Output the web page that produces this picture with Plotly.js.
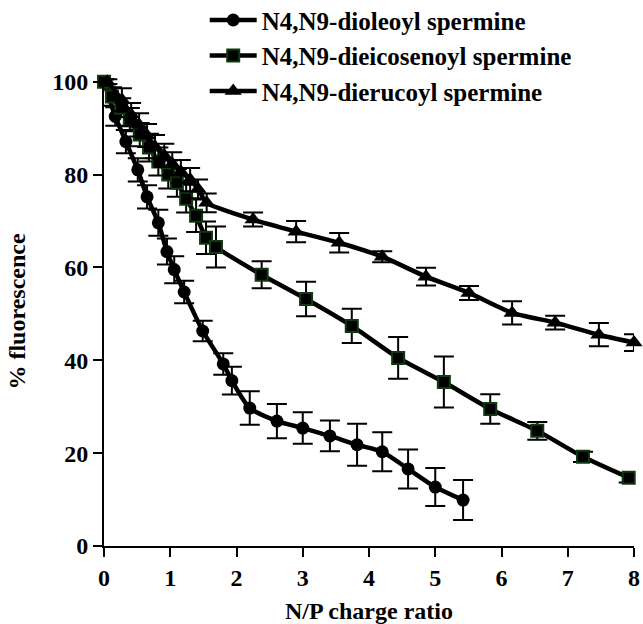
<!DOCTYPE html>
<html>
<head>
<meta charset="utf-8">
<script src="https://cdn.plot.ly/plotly-3.0.1.min.js"></script>
<style>html,body{margin:0;padding:0;background:#fff;}#chart{width:643px;height:624px;}</style>
</head>
<body>
<div id="chart"></div>
<script>
// N4,N9-dioleoyl spermine (circles)
const dioleoylX = [0, 0.17, 0.33, 0.51, 0.65, 0.82, 0.95, 1.06, 1.21, 1.49, 1.80, 1.93, 2.20, 2.61, 3.00, 3.41, 3.82, 4.20, 4.59, 5.00, 5.42];
const dioleoylY = [100, 92.5, 87.1, 81.0, 75.2, 69.6, 63.4, 59.5, 54.7, 46.3, 39.2, 35.6, 29.7, 26.9, 25.4, 23.7, 21.8, 20.3, 16.6, 12.7, 9.9];
const dioleoylErr = [0.5, 2.0, 2.5, 2.5, 2.5, 2.8, 2.8, 2.9, 2.4, 2.2, 2.3, 3.0, 3.6, 3.7, 3.4, 3.3, 4.5, 4.2, 4.2, 4.1, 4.3];

// N4,N9-dieicosenoyl spermine (squares)
const dieicosenoylX = [0, 0.12, 0.26, 0.39, 0.54, 0.68, 0.82, 0.97, 1.10, 1.24, 1.39, 1.54, 1.69, 2.38, 3.05, 3.74, 4.44, 5.13, 5.83, 6.54, 7.23, 7.92];
const dieicosenoylY = [100, 96.8, 94.4, 91.8, 88.6, 85.8, 82.8, 80.0, 78.2, 74.8, 71.1, 66.4, 64.4, 58.4, 53.2, 47.4, 40.5, 35.3, 29.5, 24.8, 19.2, 14.7];
const dieicosenoylErr = [0.5, 2.0, 2.0, 2.5, 2.5, 3.0, 3.0, 3.0, 3.0, 3.0, 3.5, 3.5, 4.4, 2.9, 3.7, 3.7, 4.5, 5.5, 3.2, 1.9, 1.1, 1.0];

// N4,N9-dierucoyl spermine (triangles)
const dierucoylX = [0.05, 0.27, 0.41, 0.53, 0.65, 0.77, 0.91, 1.03, 1.16, 1.30, 1.42, 1.55, 2.25, 2.90, 3.55, 4.20, 4.86, 5.51, 6.16, 6.81, 7.47, 8.0];
const dierucoylY = [100, 96.1, 92.9, 90.7, 88.4, 86.0, 84.1, 82.3, 80.6, 78.9, 76.9, 73.9, 70.3, 67.7, 65.3, 62.3, 58.0, 54.5, 50.2, 48.1, 45.5, 43.8];
const dierucoylErr = [0.5, 2.5, 2.5, 2.5, 2.5, 2.5, 2.5, 2.5, 2.5, 2.5, 2.0, 2.0, 1.5, 2.3, 2.1, 1.2, 1.9, 1.5, 2.5, 1.5, 2.5, 1.8];

const seriesNames = ['N4,N9-dioleoyl spermine', 'N4,N9-dieicosenoyl spermine', 'N4,N9-dierucoyl spermine'];
const xTicks = [0, 1, 2, 3, 4, 5, 6, 7, 8];
const yTicks = [0, 20, 40, 60, 80, 100];

const FONT = 'Liberation Serif, Times New Roman, serif';

function errY(arr) {
  return {type: 'data', array: arr, visible: true, color: '#000', thickness: 2, width: 10};
}

const traces = [
  {
    x: dioleoylX, y: dioleoylY, name: seriesNames[0], legendgroup: 'a',
    mode: 'lines+markers', type: 'scatter', cliponaxis: false,
    line: {color: '#000', width: 4.5, shape: 'spline', smoothing: 0.6},
    marker: {symbol: 'circle', size: 13, color: '#000', line: {color: '#000', width: 0}},
    error_y: errY(dioleoylErr)
  },
  {
    x: dieicosenoylX, y: dieicosenoylY, name: seriesNames[1], legendgroup: 'b',
    mode: 'lines+markers', type: 'scatter', cliponaxis: false,
    line: {color: '#000', width: 4.5, shape: 'spline', smoothing: 0.6},
    marker: {symbol: 'square', size: 12, color: '#000', line: {color: '#0f3a0f', width: 2}},
    error_y: errY(dieicosenoylErr)
  },
  {
    x: dierucoylX, y: dierucoylY, name: seriesNames[2], legendgroup: 'c',
    mode: 'lines+markers', type: 'scatter', cliponaxis: false,
    line: {color: '#000', width: 4.5, shape: 'spline', smoothing: 0.6},
    marker: {symbol: 'triangle-up', size: 15, color: '#000', line: {color: '#000', width: 0}},
    error_y: errY(dierucoylErr)
  }
];

const layout = {
  width: 643, height: 624,
  margin: {l: 104, r: 9, t: 77, b: 78, autoexpand: false},
  paper_bgcolor: '#fff', plot_bgcolor: '#fff',
  font: {family: FONT, color: '#000', size: 22},
  showlegend: true,
  legend: {
    x: 0.19, y: 1.17, xanchor: 'left', yanchor: 'top',
    font: {family: FONT, size: 25, color: '#000', weight: 'bold'},
    bgcolor: 'rgba(0,0,0,0)', tracegroupgap: 0, itemwidth: 47
  },
  xaxis: {
    range: [0, 8], tickvals: xTicks, ticktext: xTicks.map(String),
    showline: true, linecolor: '#000', linewidth: 2,
    ticks: 'outside', ticklen: 9, tickwidth: 2, tickcolor: '#000',
    showgrid: false, zeroline: false,
    tickfont: {family: FONT, size: 24, color: '#000', weight: 'bold'},
    title: {text: 'N/P charge ratio', font: {family: FONT, size: 24, color: '#000', weight: 'bold'}, standoff: 20}
  },
  yaxis: {
    range: [0, 101], tickvals: yTicks, ticktext: yTicks.map(String),
    showline: true, linecolor: '#000', linewidth: 2,
    ticks: 'outside', ticklen: 9, tickwidth: 2, tickcolor: '#000',
    showgrid: false, zeroline: false,
    tickfont: {family: FONT, size: 24, color: '#000', weight: 'bold'},
    title: {text: '% fluorescence', font: {family: FONT, size: 24, color: '#000', weight: 'bold'}, standoff: 20}
  }
};

Plotly.newPlot('chart', traces, layout, {staticPlot: true, displayModeBar: false});
</script>
</body>
</html>
